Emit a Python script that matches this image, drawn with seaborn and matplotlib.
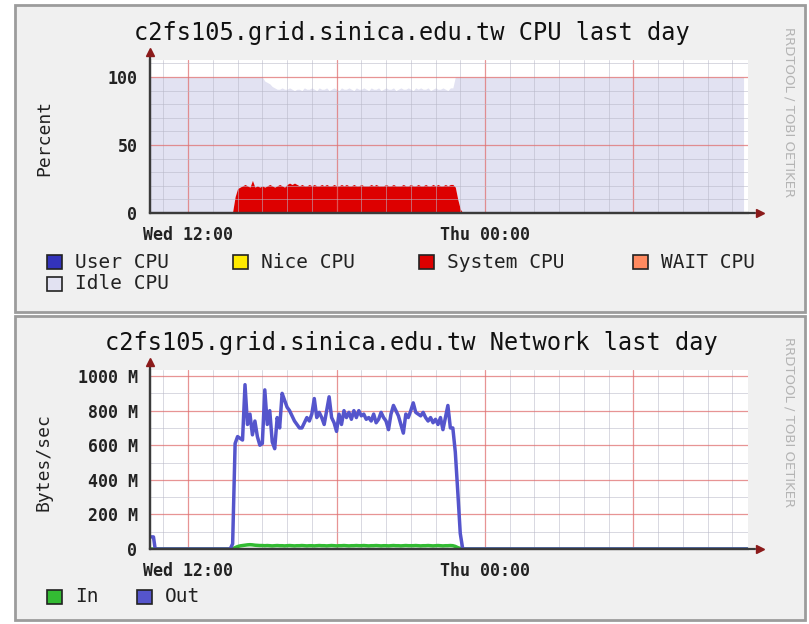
import numpy as np
import matplotlib
matplotlib.use('Agg')
import matplotlib.pyplot as plt
import seaborn as sns
from matplotlib.patches import Rectangle
from matplotlib.ticker import MultipleLocator, FuncFormatter

# time axis: hours after Wed 12:00, one sample every 6 minutes over the busy period
busy_hours = np.round(np.arange(1.7, 11.25, 0.1), 1)

# CPU percent (system) and the top of the stacked CPU area (system + idle)
system_cpu = [0, 1, 12,
              18, 19, 20, 21, 20, 19, 24, 19, 20, 19,
              20, 19, 20, 21, 20, 19, 20, 21, 20, 19,
              21, 22, 21, 22, 21, 20, 21, 20, 20, 21,
              20, 21, 20, 20, 21, 20, 21, 20, 20, 21,
              20, 20, 21, 20, 21, 20, 20, 21, 20, 20,
              21, 20, 20, 20, 21, 20, 21, 20, 20, 20,
              21, 20, 20, 21, 20, 20, 20, 21, 20, 20,
              21, 20, 20, 21, 20, 20, 21, 20, 20, 21,
              20, 21, 20, 20, 21, 20, 21, 21, 19, 10,
              3, 0, 0]
cpu_stack_top = [100, 100, 100,
                 100, 100, 100, 100, 100, 100, 100, 100, 100, 100,
                 100, 97, 96, 95, 93, 92, 91, 91, 92, 91,
                 91, 92, 91, 90, 91, 91, 90, 92, 91, 91,
                 92, 91, 90, 92, 91, 91, 92, 90, 91, 92,
                 91, 90, 92, 91, 91, 92, 91, 90, 92, 91,
                 91, 92, 91, 90, 92, 91, 91, 92, 90, 91,
                 92, 91, 91, 92, 90, 91, 92, 91, 91, 92,
                 91, 90, 92, 91, 92, 91, 91, 92, 90, 91,
                 92, 91, 91, 92, 91, 90, 92, 92, 100, 100,
                 100, 100, 100]

# network traffic in MB/s
net_out = [0, 30, 610,
           650, 640, 630, 950, 720, 780, 660, 740, 650, 600,
           610, 920, 720, 800, 620, 580, 760, 700, 900, 860,
           820, 800, 770, 740, 720, 700, 700, 730, 760, 740,
           780, 870, 760, 790, 760, 720, 800, 880, 760, 730,
           680, 780, 720, 800, 760, 790, 750, 800, 760, 800,
           770, 780, 750, 760, 740, 780, 730, 750, 790, 760,
           740, 690, 780, 830, 800, 770, 720, 670, 780, 760,
           800, 845, 790, 780, 770, 790, 760, 740, 760, 730,
           750, 720, 760, 690, 760, 830, 700, 700, 560, 330,
           90, 0, 0]
net_in = [0, 2, 8,
          14, 18, 20, 22, 24, 25, 24, 22, 21, 20,
          20, 19, 20, 19, 18, 19, 20, 19, 19, 18,
          19, 20, 19, 18, 19, 19, 20, 19, 18, 19,
          19, 18, 19, 20, 19, 19, 18, 19, 20, 19,
          18, 19, 19, 20, 19, 18, 19, 19, 20, 19,
          19, 20, 19, 18, 19, 19, 20, 19, 18, 19,
          19, 18, 19, 20, 19, 19, 18, 19, 20, 19,
          19, 19, 20, 19, 18, 19, 19, 20, 19, 18,
          19, 20, 19, 18, 19, 19, 20, 19, 15, 8,
          3, 0, 0]

# quiet stretches before / after the busy period
cpu_t = np.concatenate([[-1.54], busy_hours, [22.45]])
cpu_sys = np.concatenate([[0], system_cpu, [0]])
cpu_top = np.concatenate([[100], cpu_stack_top, [100]])

net_t = np.concatenate([[-1.54, -1.4, -1.33], busy_hours, [22.6]])
out_mb = np.concatenate([[70, 70, 0], net_out, [0]])
in_mb = np.concatenate([[0, 0, 0], net_in, [0]])

legend_cpu = [('User CPU', '#3333bb'), ('Nice CPU', '#ffea00'), ('System CPU', '#dd0000'),
              ('WAIT CPU', '#ff8a60'), ('Idle CPU', '#e2e2f2')]
legend_net = [('In', '#33bb33'), ('Out', '#5555cc')]
x_labels = {0: 'Wed 12:00', 12: 'Thu 00:00'}

sns.set_style('white')
plt.rcParams['font.family'] = ['DejaVu Sans Mono', 'DejaVu Sans']

W, H = 809, 624
fig = plt.figure(figsize=(W / 100, H / 100), dpi=100)
fig.patch.set_facecolor('white')


def fx(px):
    return px / W


def fy(py):
    return 1 - py / H


# panel backgrounds
for top_px, bot_px in [(5, 312), (316, 620)]:
    fig.patches.append(Rectangle((fx(15), fy(bot_px)), fx(790), (bot_px - top_px) / H,
                                 transform=fig.transFigure, facecolor='#f0f0f0',
                                 edgecolor='#9c9c9c', lw=2, zorder=-5))

ax1 = fig.add_axes([fx(150), fy(213), fx(598), (213 - 60) / H])
ax2 = fig.add_axes([fx(150), fy(549), fx(598), (549 - 370) / H])
ax1.set_zorder(1)
ax2.set_zorder(1)


def style_axes(ax, ymax, ymajor, yminor, yfmt, arrow_top):
    ax.set_facecolor('white')
    ax.set_xlim(-1.54, 22.63)
    ax.set_ylim(0, ymax)
    ax.xaxis.set_major_locator(MultipleLocator(6))
    ax.xaxis.set_minor_locator(MultipleLocator(1))
    ax.yaxis.set_major_locator(MultipleLocator(ymajor))
    ax.yaxis.set_minor_locator(MultipleLocator(yminor))
    ax.xaxis.set_major_formatter(FuncFormatter(lambda v, p: x_labels.get(int(round(v)), '')))
    ax.yaxis.set_major_formatter(FuncFormatter(yfmt))
    ax.set_axisbelow(False)
    ax.grid(which='minor', color='#b8b8c8', lw=0.7, alpha=0.55)
    ax.grid(which='major', color='#e07070', lw=0.9, alpha=0.75)
    for s in ['top', 'right']:
        ax.spines[s].set_visible(False)
    for s in ['left', 'bottom']:
        ax.spines[s].set_color('#3a3a3a')
        ax.spines[s].set_linewidth(1.6)
        ax.spines[s].set_zorder(4)
    ax.tick_params(which='major', length=4, width=1, color='#3a3a3a',
                   labelsize=12, labelcolor='#222222', pad=5)
    ax.tick_params(which='minor', length=2, width=0.8, color='#3a3a3a')
    for lab in ax.get_xticklabels() + ax.get_yticklabels():
        lab.set_fontweight('bold')
    ax.set_xlabel('')
    ax.set_ylabel('')
    # axis arrows
    ax.plot([0, 0], [0, arrow_top - 0.02], transform=ax.transAxes, clip_on=False,
            color='#3a3a3a', lw=1.6, zorder=5)
    ax.plot([0, 1.012], [0, 0], transform=ax.transAxes, clip_on=False,
            color='#3a3a3a', lw=1.6, zorder=5)
    ax.plot([0], [arrow_top], marker='^', ms=6, color='#8b1a1a', transform=ax.transAxes,
            clip_on=False, zorder=6)
    ax.plot([1.02], [0], marker='>', ms=6, color='#8b1a1a', transform=ax.transAxes,
            clip_on=False, zorder=6)


# CPU panel
ax1.fill_between(cpu_t, cpu_sys, cpu_top, color='#e2e2f2', lw=0, zorder=1)
ax1.fill_between(cpu_t, 0, cpu_sys, color='#dd0000', lw=0, zorder=1.5)
style_axes(ax1, 112.5, 50, 10, lambda v, p: f'{v:.0f}', 1.052)

# network panel
sns.lineplot(x=net_t, y=in_mb, color='#33bb33', lw=2.5, ax=ax2, zorder=3)
sns.lineplot(x=net_t, y=out_mb, color='#5555cc', lw=2.5, ax=ax2, zorder=3.5)
style_axes(ax2, 1035, 200, 100, lambda v, p: f'{v:.0f} M' if v > 0 else '0', 1.045)

# titles and axis labels
fig.text(fx(412), fy(33), 'c2fs105.grid.sinica.edu.tw CPU last day', ha='center', va='center',
         fontsize=17, color='#111111')
fig.text(fx(411), fy(343), 'c2fs105.grid.sinica.edu.tw Network last day', ha='center',
         va='center', fontsize=17, color='#111111')
fig.text(fx(44), fy(138), 'Percent', rotation=90, ha='center', va='center', fontsize=13,
         color='#222222')
fig.text(fx(44), fy(462), 'Bytes/sec', rotation=90, ha='center', va='center', fontsize=13,
         color='#222222')
for cy in [112, 422]:
    fig.text(fx(789), fy(cy), 'RRDTOOL / TOBI OETIKER', rotation=270, ha='center', va='center',
             fontsize=9.5, color='#b4b4b4', family='DejaVu Sans')

# legends
cpu_pos = [(47, 262), (233, 262), (419, 262), (633, 262), (47, 284)]
net_pos = [(47, 597), (137, 597)]
for (label, color), (px, py) in list(zip(legend_cpu, cpu_pos)) + list(zip(legend_net, net_pos)):
    fig.patches.append(Rectangle((fx(px), fy(py + 7)), fx(15), 14 / H, transform=fig.transFigure,
                                 facecolor=color, edgecolor='#222222', lw=1.2, zorder=3))
    fig.text(fx(px + 28), fy(py), label, ha='left', va='center', fontsize=14, color='#222222')

fig.savefig('out.png', dpi=100, facecolor='white')
